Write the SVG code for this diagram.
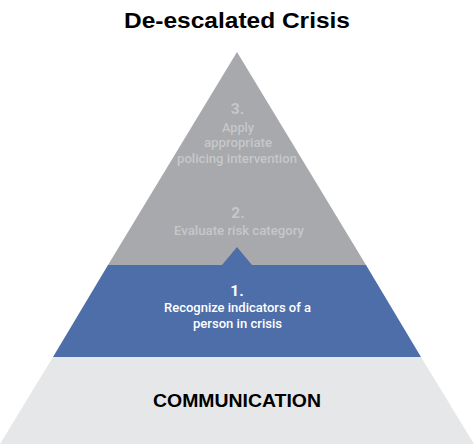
<svg xmlns="http://www.w3.org/2000/svg" width="475" height="444" viewBox="0 0 475 444">
<style>
text{font-family:Roboto,"Liberation Sans",Arial,sans-serif;text-anchor:middle}
.title{font-family:"Liberation Sans",Arial,sans-serif;font-size:22px;font-weight:bold;fill:#000}
.gnum{font-size:15.5px;font-weight:bold;fill:#c6c7c9}
.gtxt{font-size:13.5px;font-weight:500;fill:#c6c7c9}
.bnum{font-size:15.5px;font-weight:bold;fill:#fff}
.btxt{font-size:13.5px;font-weight:500;fill:#fff}
.base{font-family:"Liberation Sans",Arial,sans-serif;font-size:19px;font-weight:bold;fill:#000}
</style>
<rect width="475" height="444" fill="#fff"/>
<text class="title" x="237" y="28" textLength="226" lengthAdjust="spacingAndGlyphs">De-escalated Crisis</text>
<g id="level-base">
<polygon points="53,357 421,357 474,444 0,444" fill="#e6e7e8"/>
<text class="base" x="237" y="407" textLength="168" lengthAdjust="spacingAndGlyphs">COMMUNICATION</text>
</g>
<g id="level-top">
<polygon points="237,52 366,265 108,265" fill="#a7a9ac"/>
<text class="gnum" x="237.5" y="114">3.</text>
<text class="gtxt" x="238" y="132" textLength="32" lengthAdjust="spacingAndGlyphs">Apply</text>
<text class="gtxt" x="238" y="147" textLength="68" lengthAdjust="spacingAndGlyphs">appropriate</text>
<text class="gtxt" x="237" y="163" textLength="120" lengthAdjust="spacingAndGlyphs">policing intervention</text>
<text class="gnum" x="238" y="218">2.</text>
<text class="gtxt" x="239" y="235" textLength="130" lengthAdjust="spacingAndGlyphs">Evaluate risk category</text>
</g>
<g id="level-1">
<polygon points="108,265 222,265 237,247 252,265 366,265 421,357 53,357" fill="#4e6eaa"/>
<text class="bnum" x="237" y="296">1.</text>
<text class="btxt" x="237.5" y="312" textLength="147" lengthAdjust="spacingAndGlyphs">Recognize indicators of a</text>
<text class="btxt" x="237.5" y="328" textLength="89" lengthAdjust="spacingAndGlyphs">person in crisis</text>
</g>
<g id="connectors"></g>
</svg>
